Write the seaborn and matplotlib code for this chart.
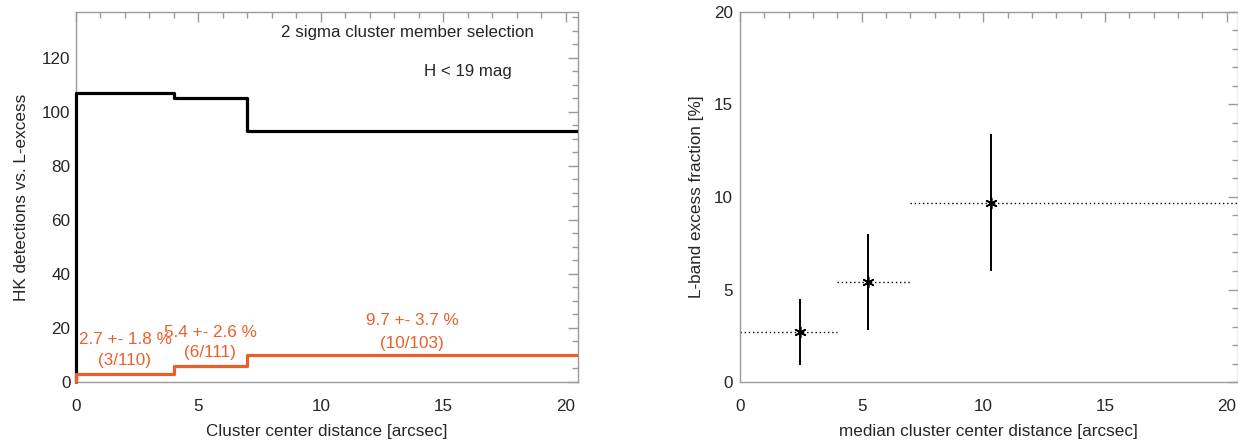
import numpy as np
import pandas as pd
import matplotlib
matplotlib.use("Agg")
import matplotlib.pyplot as plt
from matplotlib.patches import Rectangle
from matplotlib.ticker import MultipleLocator
import seaborn as sns

# Radial bins (arcsec) and source counts per bin
bin_edges = [0, 4, 7, 21]
n_total = [110, 111, 103]
n_excess = [3, 6, 10]
n_plain = [107, 105, 93]

# L-band excess fraction per bin (%) and its uncertainty
frac = [2.7, 5.4, 9.7]
frac_err = [1.8, 2.6, 3.7]
median_dist = [2.45, 5.25, 10.3]

# where the per-bin annotations sit (data coords of the left panel)
pct_label_pos = [(2.0, 15.9), (5.48, 18.5), (13.73, 22.6)]
cnt_label_pos = [(2.0, 8.1), (5.48, 11.1), (13.73, 14.4)]

ORANGE = "#EA5F2A"
SPINE = "#9a9a9a"
FS = 12.3

sns.set_style("white")
plt.rcParams["font.family"] = ["Liberation Sans", "DejaVu Sans"]
plt.rcParams["font.size"] = FS


def step_frame(values):
    xs = [bin_edges[0]] + list(bin_edges)
    ys = [0] + list(values) + [values[-1]]
    return pd.DataFrame({"x": xs, "y": ys})


def style_axes(ax, xmajor, xminor, ymajor, yminor, ypad):
    for s in ax.spines.values():
        s.set_color(SPINE)
        s.set_linewidth(1.0)
    ax.xaxis.set_major_locator(MultipleLocator(xmajor))
    ax.xaxis.set_minor_locator(MultipleLocator(xminor))
    ax.yaxis.set_major_locator(MultipleLocator(ymajor))
    ax.yaxis.set_minor_locator(MultipleLocator(yminor))
    ax.tick_params(which="both", direction="in", top=True, right=True,
                   color=SPINE, width=1.0)
    ax.tick_params(which="major", length=7)
    ax.tick_params(which="minor", length=4.5)
    ax.tick_params(axis="x", which="major", pad=12, labelsize=FS)
    ax.tick_params(axis="y", which="major", pad=ypad, labelsize=FS)


fig = plt.figure(figsize=(12.38, 4.4), dpi=100)
ax1 = fig.add_axes([76 / 1238, 1 - 382 / 440, 502 / 1238, 370 / 440])
ax2 = fig.add_axes([740 / 1238, 1 - 382 / 440, 497.5 / 1238, 370 / 440])

# Left: histogram-style counts per radial bin
sns.lineplot(data=step_frame(n_plain), x="x", y="y", ax=ax1, color="black",
             lw=2.3, drawstyle="steps-post", estimator=None, sort=False,
             zorder=4)
sns.lineplot(data=step_frame(n_excess), x="x", y="y", ax=ax1, color=ORANGE,
             lw=2.3, drawstyle="steps-post", estimator=None, sort=False,
             zorder=5)
# let the x=0 edge of the steps show fully over the left spine
clip_rect = Rectangle((-0.01, -0.01), 1.01, 1.02, transform=ax1.transAxes,
                      visible=False)
ax1.add_patch(clip_rect)
for ln in ax1.get_lines():
    ln.set_clip_path(clip_rect)

ax1.set_xlim(0, 20.5)
ax1.set_ylim(0, 137)
style_axes(ax1, 5, 1, 20, 5, 4)
ax1.set_xlabel("Cluster center distance [arcsec]", fontsize=FS)
ax1.set_ylabel("HK detections vs. L-excess", fontsize=FS)
ax1.xaxis.set_label_coords(0.5, -0.113)
ax1.yaxis.set_label_coords(-0.094, 0.5)

ax1.text(13.55, 129.3, "2 sigma cluster member selection", ha="center",
         va="center", fontsize=12.2)
ax1.text(16.0, 115, "H < 19 mag", ha="center", va="center", fontsize=12.2)
for i in range(len(frac)):
    px, py = pct_label_pos[i]
    ax1.text(px, py, f"{frac[i]} +- {frac_err[i]} %", color=ORANGE,
             ha="center", va="center", fontsize=FS)
    cx, cy = cnt_label_pos[i]
    ax1.text(cx, cy, f"({n_excess[i]}/{n_total[i]})", color=ORANGE,
             ha="center", va="center", fontsize=FS)

# Right: excess fraction against median distance of each bin
pts = pd.DataFrame({"d": median_dist, "f": frac})
for i in range(len(frac)):
    ax2.hlines(frac[i], bin_edges[i], bin_edges[i + 1], color="black",
               lw=1.0, linestyle=(0, (1, 2)), clip_on=True)
    ax2.vlines(median_dist[i], frac[i] - frac_err[i], frac[i] + frac_err[i],
               color="black", lw=1.4)
sns.scatterplot(data=pts, x="d", y="f", ax=ax2, marker=(6, 2, 0), s=55,
                color="black", linewidth=1.2, zorder=5)
ax2.set_xlim(0, 20.45)
ax2.set_ylim(0, 20)
style_axes(ax2, 5, 1, 5, 1, 5)
ax2.set_xlabel("median cluster center distance [arcsec]", fontsize=FS)
ax2.set_ylabel("L-band excess fraction [%]", fontsize=FS)
ax2.xaxis.set_label_coords(0.5, -0.113)
ax2.yaxis.set_label_coords(-0.072, 0.5)

fig.savefig("out.png", dpi=100)
